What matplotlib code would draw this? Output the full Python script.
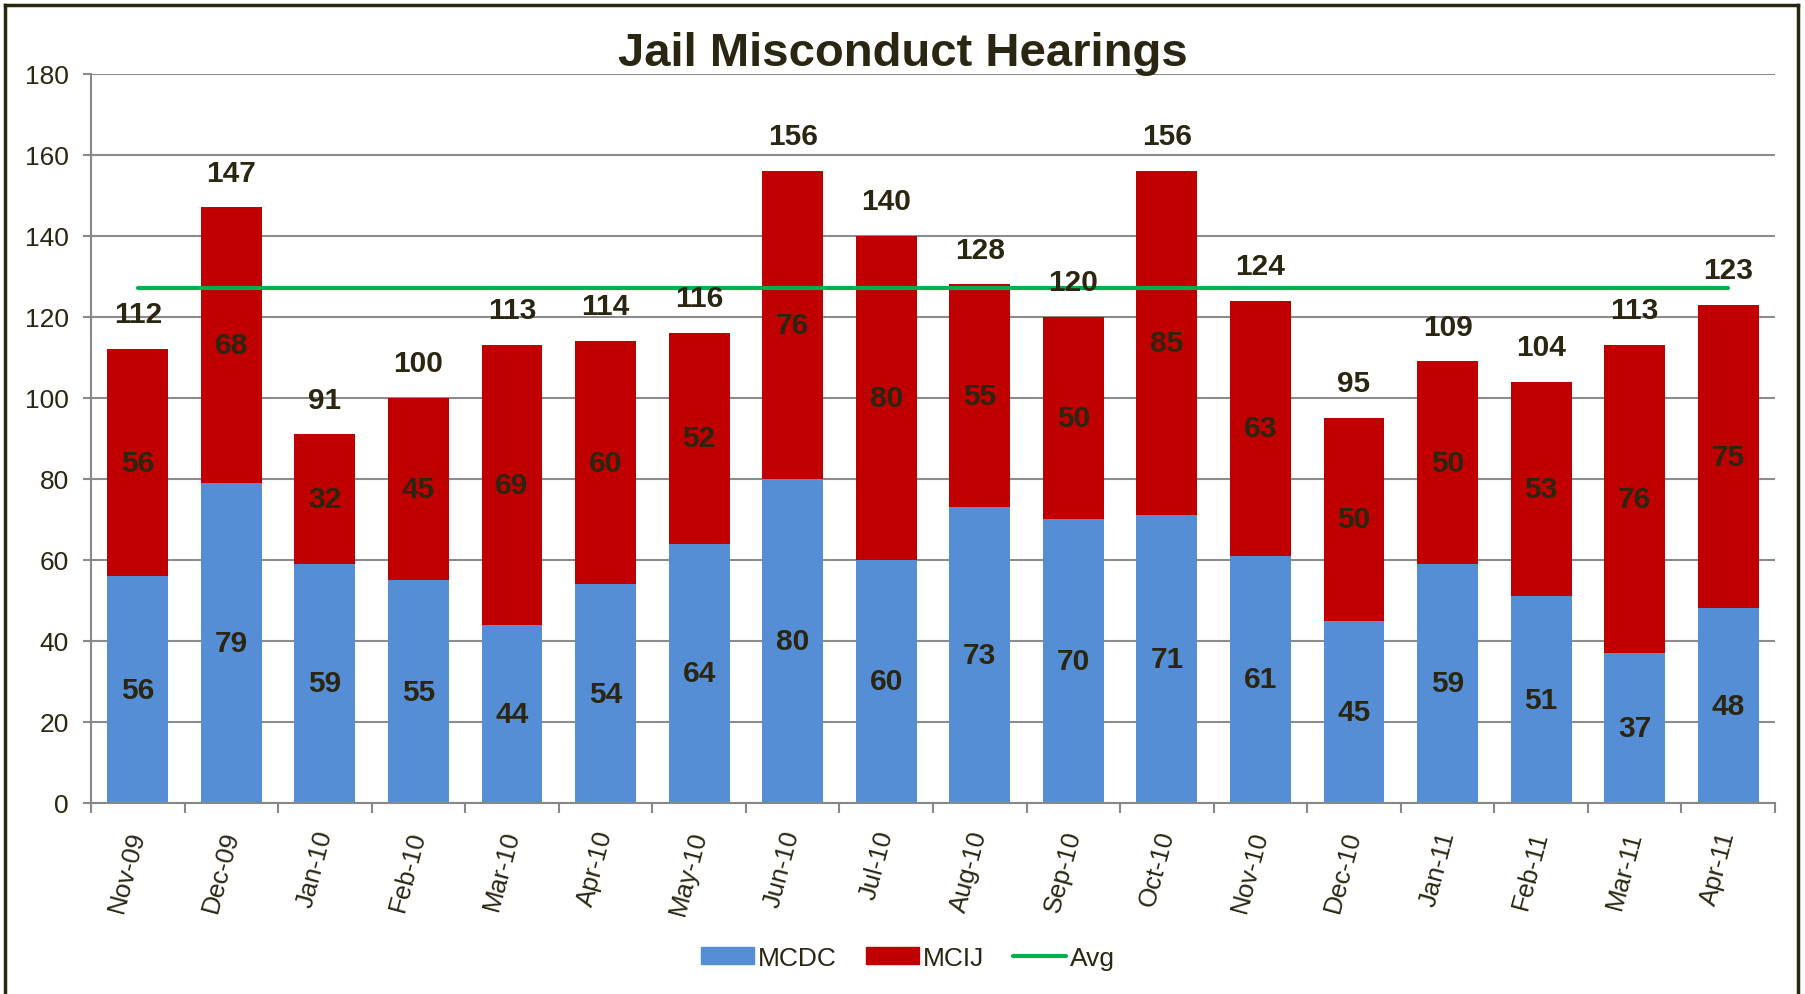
import numpy as np
import matplotlib.pyplot as plt
from matplotlib.lines import Line2D

months = ["Nov-09", "Dec-09", "Jan-10", "Feb-10", "Mar-10", "Apr-10", "May-10", "Jun-10", "Jul-10",
          "Aug-10", "Sep-10", "Oct-10", "Nov-10", "Dec-10", "Jan-11", "Feb-11", "Mar-11", "Apr-11"]
mcdc = [56, 79, 59, 55, 44, 54, 64, 80, 60, 73, 70, 71, 61, 45, 59, 51, 37, 48]
mcij = [56, 68, 32, 45, 69, 60, 52, 76, 80, 55, 50, 85, 63, 50, 50, 53, 76, 75]
avg = [127] * 18

text_color = "#2b2611"
plt.rcParams['font.family'] = ['Liberation Sans', 'DejaVu Sans']

fig = plt.figure(figsize=(18.05, 9.95), dpi=100)
ax = fig.add_axes([0.0504, 0.192, 0.933, 0.733])

x = np.arange(len(months))
totals = np.array(mcdc) + np.array(mcij)

ax.bar(x, mcdc, width=0.65, color="#558ed5", zorder=2, label="MCDC")
ax.bar(x, mcij, width=0.65, bottom=mcdc, color="#c00000", zorder=2, label="MCIJ")
ax.plot(x, avg, color="#00b050", lw=3, solid_capstyle='round', zorder=3, label="Avg")

lbl = dict(ha='center', va='center', fontsize=21.5, fontweight='bold', color=text_color, zorder=4)
for i in range(len(months)):
    ax.text(x[i], mcdc[i] / 2, str(mcdc[i]), **lbl)
    ax.text(x[i], mcdc[i] + mcij[i] / 2, str(mcij[i]), **lbl)
    ax.annotate(str(totals[i]), (x[i], totals[i]), xytext=(0, 25), textcoords='offset points', **lbl)

ax.set_xlim(-0.5, len(months) - 0.5)
ax.set_ylim(0, 180)
ax.set_yticks(range(0, 181, 20))
ax.tick_params(axis='y', labelsize=19, colors="#888888", labelcolor=text_color, length=6, width=1.5, pad=10)
ax.yaxis.grid(True, color="#8c8c8c", lw=1.5, zorder=0)

# category boundary ticks on the x axis
ax.set_xticks(np.arange(-0.5, len(months)), minor=False)
ax.set_xticklabels([])
ax.set_xticks(x, minor=True)
ax.set_xticklabels(months, minor=True, rotation=75, ha='right', va='center',
                   rotation_mode='anchor', fontsize=18.5, color=text_color)
ax.tick_params(axis='x', which='major', length=7, width=1.5, colors="#888888")
ax.tick_params(axis='x', which='minor', length=0, pad=20)

for s in ['top', 'right']:
    ax.spines[s].set_visible(False)
for s in ['left', 'bottom']:
    ax.spines[s].set_color("#888888")
    ax.spines[s].set_linewidth(1.5)

fig.text(0.5, 0.946, "Jail Misconduct Hearings", ha='center', va='center',
         fontsize=34, fontweight='bold', color=text_color)

handles = [plt.Rectangle((0, 0), 1, 1, color="#558ed5"),
           plt.Rectangle((0, 0), 1, 1, color="#c00000"),
           Line2D([0], [0], color="#00b050", lw=3, solid_capstyle='round')]
fig.legend(handles, ["MCDC", "MCIJ", "Avg"], loc='center', bbox_to_anchor=(0.503, 0.036),
           ncol=3, frameon=False, fontsize=19, handlelength=2.0, handleheight=0.6,
           handletextpad=0.15, columnspacing=1.1, labelcolor=text_color)

# outer border of the chart
for xs, ys in [([0.003, 0.003], [0.0, 0.994]), ([0.003, 0.996], [0.994, 0.994]), ([0.996, 0.996], [0.0, 0.994])]:
    fig.add_artist(Line2D(xs, ys, color=text_color, lw=2.5, transform=fig.transFigure))

fig.savefig("out.png", dpi=100)
plt.close()
